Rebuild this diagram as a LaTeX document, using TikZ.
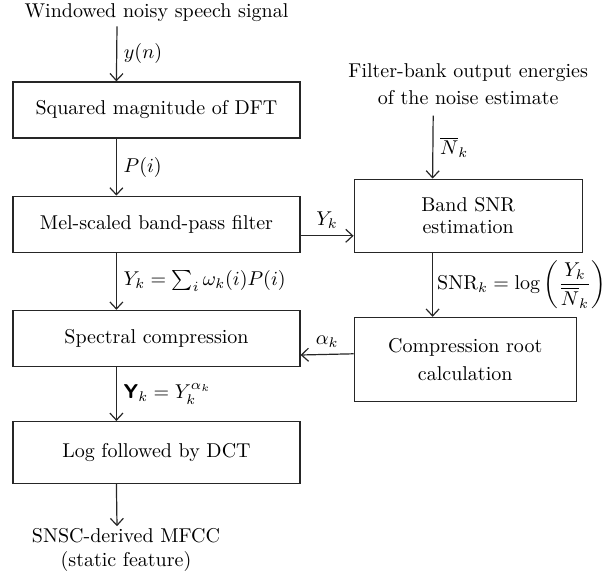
\documentclass[tikz,border=0pt]{standalone}
\usetikzlibrary{arrows.meta,positioning}

\begin{document}
\begin{tikzpicture}[
  x=1pt,y=1pt,
  node distance=28.5pt,
  box/.style={draw=black!85,line width=0.6pt,minimum width=143.5pt,minimum height=28pt,inner sep=0pt,align=center},
  sidebox/.style={draw=black!85,line width=0.6pt,inner sep=0pt,align=center},
  arrow/.style={-{Straight Barb[length=3.5pt,width=6.5pt]},line width=0.6pt,draw=black!85}
]
\useasboundingbox (0,0) rectangle (306,-288.5);
% main chain
\node[box] (sqmag) at (78.25,-55) {Squared magnitude of DFT};
\node[box,below=of sqmag] (melfilt) {Mel-scaled band-pass filter};
\node[box,below=of melfilt] (speccomp) {Spectral compression};
\node[box,below=27pt of speccomp,minimum height=31pt] (logdct) {Log followed by DCT};
\node[above=27.5pt of sqmag,inner sep=2pt] (input) {Windowed noisy speech signal};
\node[below=21pt of logdct,xshift=-15.25pt,inner sep=1pt,align=center] (output) {SNSC-derived MFCC\\(static feature)};
% side branch
\node[sidebox,minimum width=114pt,minimum height=36.5pt,anchor=south west] (bandsnr) at ([xshift=26.5pt]melfilt.south east) {Band SNR\\[-1pt]estimation};
\node[sidebox,minimum width=111pt,minimum height=42pt,below=32pt of bandsnr.south west,anchor=north west] (comproot) {Compression root\\[2pt]calculation};
\node[above=31.5pt of bandsnr,inner xsep=2pt,inner ysep=5pt,align=center] (noise) {Filter-bank output energies\\[1.5pt]of the noise estimate};
% connectors
\draw[arrow] ([xshift=-19.75pt]input.south) -- ([xshift=52pt]sqmag.north west) node[midway,right]{$y(n)$};
\draw[arrow] ([xshift=52pt]sqmag.south west) -- ([xshift=52pt]melfilt.north west) node[midway,right]{$P(i)$};
\draw[arrow] ([xshift=52pt]melfilt.south west) -- ([xshift=52pt]speccomp.north west) node[midway,right]{$Y_k = \sum_i \omega_k(i)P(i)$};
\draw[arrow] ([xshift=52pt]speccomp.south west) -- ([xshift=52pt]logdct.north west) node[midway,right]{$\mbox{\sffamily\bfseries Y}_k = Y_k^{\alpha_k}$};
\draw[arrow] ([xshift=52pt]logdct.south west) -- ([xshift=-4.5pt]output.north);
\draw[arrow] ([yshift=8.5pt]melfilt.south east) -- ([yshift=8.5pt]bandsnr.south west) node[midway,above]{$Y_k$};
\draw[arrow] ([xshift=-17.5pt]noise.south) -- ([xshift=39.5pt]bandsnr.north west) node[midway,right]{$\overline{N}_k$};
\draw[arrow] ([xshift=39.5pt]bandsnr.south west) -- ([xshift=39.5pt]comproot.north west) node[midway,right,inner sep=2pt]{$\mathrm{SNR}_k = \log\left(\displaystyle\frac{Y_k}{\overline{N}_k}\right)$};
\draw[arrow] ([yshift=-18.5pt]comproot.north west) -- ([yshift=6pt]speccomp.south east) node[midway,above]{$\alpha_k$};
\end{tikzpicture}
\end{document}
